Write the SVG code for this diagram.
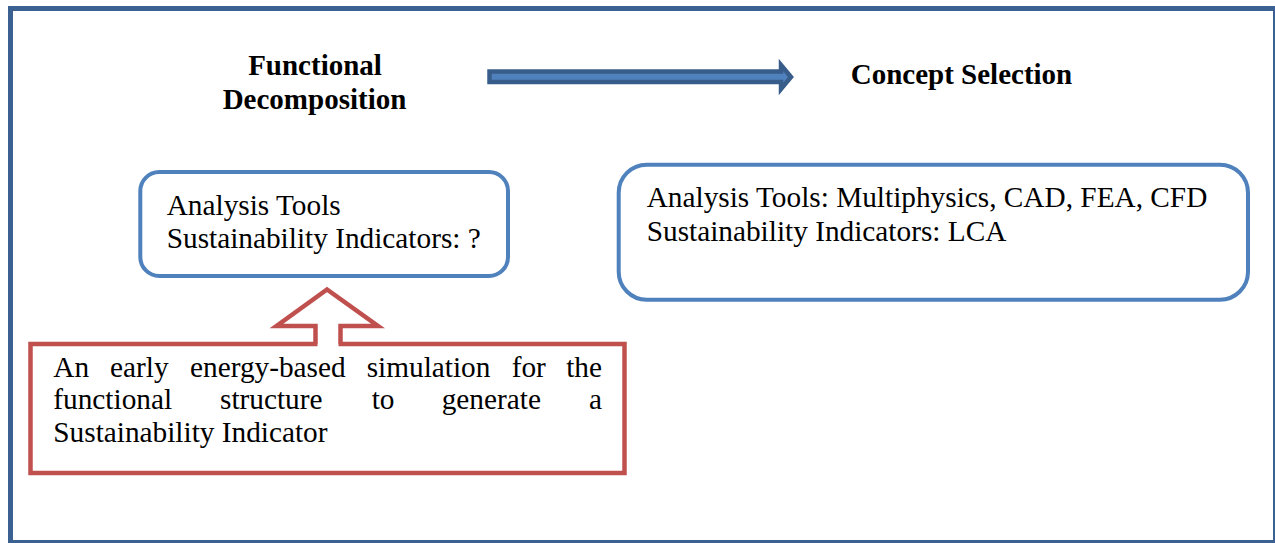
<svg xmlns="http://www.w3.org/2000/svg" width="1275" height="543" viewBox="0 0 1275 543">
<style>
  .t { font-family: "Liberation Serif", "Times New Roman", serif; font-size: 29.3px; fill: #000; }
  .h { font-family: "Liberation Serif", "Times New Roman", serif; font-size: 29px; font-weight: bold; fill: #000; }
  .blue { fill: #fff; stroke: #4F81BD; stroke-width: 4; }
  .red { fill: #fff; stroke: #C0504D; stroke-width: 4.5; }
</style>
<rect x="0" y="0" width="1275" height="543" fill="#fff"/>
<rect id="frame" x="10.5" y="8.5" width="1265" height="534" fill="none" stroke="#3A6191" stroke-width="5"/>

<g id="title-functional">
  <text class="h" x="315" y="75" text-anchor="middle">Functional</text>
  <text class="h" x="314.5" y="108.5" text-anchor="middle">Decomposition</text>
</g>
<g id="title-concept">
  <text class="h" x="961.5" y="84" text-anchor="middle">Concept Selection</text>
</g>

<g id="box-left">
  <rect class="blue" x="140.3" y="172" width="367.7" height="104" rx="19" ry="19"/>
  <text class="t" x="166.7" y="215">Analysis Tools</text>
  <text class="t" x="166.7" y="248">Sustainability Indicators: ?</text>
</g>

<g id="box-right">
  <rect class="blue" x="618.7" y="164.7" width="629.3" height="135" rx="28" ry="28"/>
  <text class="t" x="646.7" y="207">Analysis Tools: Multiphysics, CAD, FEA, CFD</text>
  <text class="t" x="646.7" y="241">Sustainability Indicators: LCA</text>
</g>

<g id="box-red">
  <rect class="red" x="30.5" y="344" width="594" height="129"/>
  <text class="t" y="376.7"><tspan x="53.3">An</tspan><tspan x="110">early</tspan><tspan x="190">energy-based</tspan><tspan x="366.7">simulation</tspan><tspan x="511.7">for</tspan><tspan x="602" text-anchor="end">the</tspan></text>
  <text class="t" y="409"><tspan x="53.3">functional</tspan><tspan x="220">structure</tspan><tspan x="371.7">to</tspan><tspan x="441.7">generate</tspan><tspan x="602" text-anchor="end">a</tspan></text>
  <text class="t" x="53.3" y="442">Sustainability Indicator</text>
</g>

<g id="connectors">
  <polygon id="arrow-right" points="489.5,71.5 781,71.5 781,65 791,77 781,89 781,82 489.5,82" fill="#4F81BD" stroke="#385D8A" stroke-width="4.5" stroke-linejoin="miter"/>
  <g id="arrow-up">
    <rect x="317.5" y="326" width="21" height="22" fill="#fff"/>
    <polyline points="315.5,344 315.5,326 276.5,326 327,289.5 378,326 340.5,326 340.5,344" fill="#fff" stroke="#C0504D" stroke-width="4.5" stroke-linejoin="miter"/>
  </g>
</g>
</svg>
